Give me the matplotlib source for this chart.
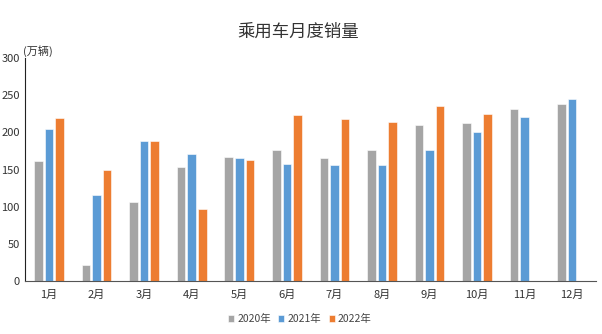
import numpy as np
import matplotlib
matplotlib.use("Agg")
import matplotlib.pyplot as plt

plt.rcParams['font.family'] = ['Noto Sans CJK SC', 'DejaVu Sans']

months = ['1月', '2月', '3月', '4月', '5月', '6月', '7月', '8月', '9月', '10月', '11月', '12月']
sales_2020 = [162, 22, 106, 154, 167, 176, 166, 176, 210, 212, 231, 238]
sales_2021 = [205, 116, 188, 171, 165, 157, 156, 156, 176, 201, 220, 244]
sales_2022 = [219, 149, 188, 97, 163, 223, 218, 214, 235, 224]
series_names = ['2020年', '2021年', '2022年']
colors = ['#A5A5A5', '#5B9BD5', '#ED7D31']

fig = plt.figure(figsize=(6.02, 3.34), dpi=100)
ax = fig.add_axes([0.042, 0.158, 0.948, 0.669])

x = np.arange(len(months))
w = 0.18
step = 0.222
for k, vals in enumerate([sales_2020, sales_2021, sales_2022]):
    xs = x[:len(vals)] + (k - 1) * step
    ax.bar(xs, vals, width=w, color=colors[k], label=series_names[k],
           edgecolor='white', linewidth=0.4)

ax.set_xlim(-0.5, 11.5)
ax.set_ylim(0, 300)
ax.set_yticks(range(0, 301, 50))
ax.set_xticks(x)
ax.set_xticklabels(months)
ax.tick_params(axis='both', length=0, labelsize=8, colors='#333333')
ax.tick_params(axis='x', pad=6)
ax.tick_params(axis='y', pad=4)
for s in ['top', 'right']:
    ax.spines[s].set_visible(False)
ax.spines['left'].set_color('#222222')
ax.spines['bottom'].set_color('#555555')

ax.text(-0.004, 1.005, '(万辆)', transform=ax.transAxes, fontsize=8,
        ha='left', va='bottom', color='#333333')

fig.text(0.495, 0.905, '乘用车月度销量', ha='center', va='center',
         fontsize=12.5, color='#333333')

fig.legend(loc='center', bbox_to_anchor=(0.498, 0.045), ncol=3, frameon=False,
           fontsize=7.5, handlelength=0.6, handleheight=0.6, handletextpad=0.3,
           columnspacing=0.7, labelcolor='#444444')

fig.savefig('out.png', dpi=100)
